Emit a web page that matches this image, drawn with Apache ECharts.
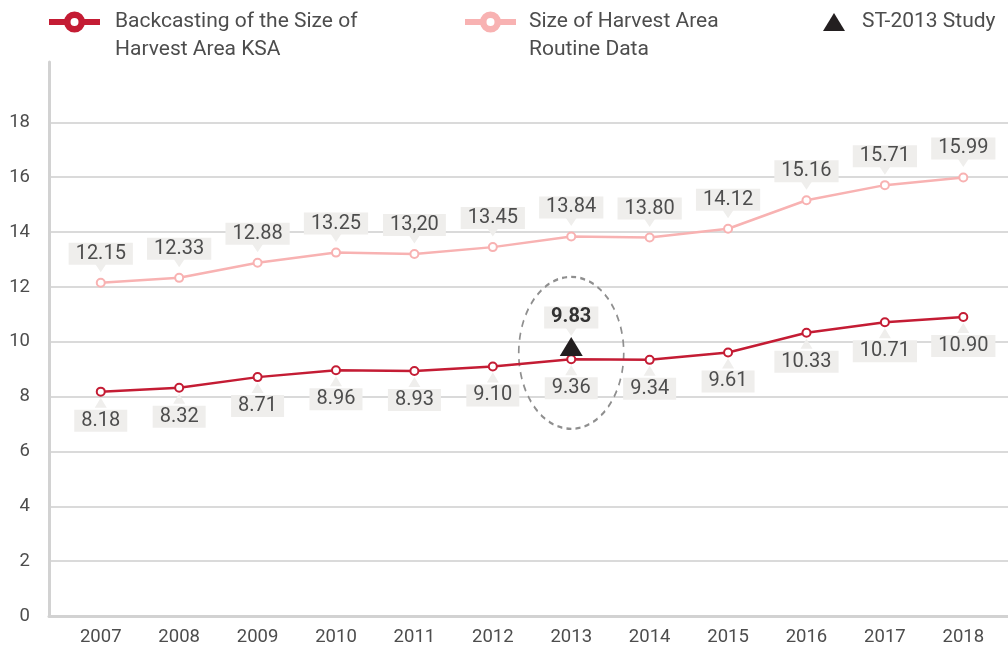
<!DOCTYPE html>
<html>
<head>
<meta charset="utf-8">
<script src="https://cdn.jsdelivr.net/npm/echarts@6/dist/echarts.min.js"></script>
<style>
  html, body { margin: 0; padding: 0; background: #fff; }
  #main { width: 1008px; height: 647px; }
</style>
</head>
<body>
<div id="main"></div>
<script>
// data
const years = [2007, 2008, 2009, 2010, 2011, 2012, 2013, 2014, 2015, 2016, 2017, 2018];
const backcastKSA = [8.18, 8.32, 8.71, 8.96, 8.93, 9.10, 9.36, 9.34, 9.61, 10.33, 10.71, 10.90];
const routineData = [12.15, 12.33, 12.88, 13.25, 13.20, 13.45, 13.84, 13.80, 14.12, 15.16, 15.71, 15.99];
const studyYear = [2013];
const studyValue = [9.83];

const NAME_KSA = 'Backcasting of the Size of Harvest Area KSA';
const NAME_ROUTINE = 'Size of Harvest Area Routine Data';
const NAME_STUDY = 'ST-2013 Study';

const RED = '#c41c34';
const PINK = '#f8b2b2';
const BOX = '#efeeec';
const TXT = '#4d4d4d';
const FONT = 'Roboto';

const pairs = vals => vals.map((v, i) => [years[i], v]);
const studyPts = studyYear.map((y, i) => [y, studyValue[i]]);

// legend icon: thick line with a ring in the middle
const lineRingIcon = 'path://M0 7.5H16V13.5H0Z M35 7.5H51V13.5H35Z ' +
    'M15 10.5A10.5 10.5 0 1 1 36 10.5A10.5 10.5 0 1 1 15 10.5Z ' +
    'M21.5 10.5A4 4 0 1 0 29.5 10.5A4 4 0 1 0 21.5 10.5Z';
const ellipsePath = 'path://M0 76A52.5 76 0 1 1 105 76A52.5 76 0 1 1 0 76Z';

const boxLabel = {
    show: true,
    fontFamily: FONT,
    fontSize: 20,
    lineHeight: 20,
    color: TXT,
    backgroundColor: BOX,
    padding: [1, 7, 1, 7]
};

const legendText = padLeft => ({
    fontFamily: FONT,
    fontSize: 21,
    lineHeight: 28,
    color: TXT,
    padding: [0, 0, 0, padLeft]
});

const chart = echarts.init(document.getElementById('main'));
chart.setOption({
    animation: false,
    grid: { left: 49, right: 0, top: 62, bottom: 31 },
    legend: [
        {
            // leading empty line keeps the first text line level with the icon
            data: [NAME_KSA], left: 49, top: -20, padding: 0, selectedMode: false,
            icon: lineRingIcon, itemWidth: 51, itemHeight: 21,
            itemStyle: { color: RED },
            formatter: () => '\nBackcasting of the Size of\nHarvest Area KSA',
            textStyle: legendText(10)
        },
        {
            data: [NAME_ROUTINE], left: 465, top: -20, padding: 0, selectedMode: false,
            icon: lineRingIcon, itemWidth: 51, itemHeight: 21,
            itemStyle: { color: PINK },
            formatter: () => '\nSize of Harvest Area\nRoutine Data',
            textStyle: legendText(8)
        },
        {
            data: [NAME_STUDY], left: 823, top: 8, padding: 0, selectedMode: false,
            icon: 'triangle', itemWidth: 22, itemHeight: 18,
            itemStyle: { color: '#231f20' },
            textStyle: legendText(12)
        }
    ],
    xAxis: {
        type: 'value',
        min: 2006.34,
        max: 2018.57,
        axisLine: { show: true, lineStyle: { color: '#d2d2d2', width: 3 } },
        axisTick: { show: false },
        splitLine: { show: false },
        axisLabel: {
            customValues: years,
            formatter: v => String(v),
            margin: 12,
            fontFamily: FONT,
            fontSize: 18.5,
            color: TXT
        }
    },
    yAxis: {
        type: 'value',
        min: 0,
        max: 20.2,
        interval: 2,
        axisLine: { show: true, lineStyle: { color: '#d2d2d2', width: 3 } },
        axisTick: { show: false },
        axisLabel: {
            showMaxLabel: false,
            formatter: v => (v > 19 ? '' : String(v)),
            margin: 19,
            fontFamily: FONT,
            fontSize: 18.5,
            color: TXT
        },
        splitLine: {
            showMaxLine: false,
            lineStyle: {
                width: 2,
                color: ['#dadada', '#dadada', '#dadada', '#dadada', '#dadada', '#dadada',
                        '#dadada', '#dadada', '#dadada', '#dadada', 'rgba(0,0,0,0)']
            }
        }
    },
    series: [
        {
            // dashed ellipse around the 2013 comparison
            type: 'scatter', silent: true, z: 1,
            symbol: ellipsePath, symbolSize: [105, 152],
            itemStyle: { color: 'rgba(0,0,0,0)', borderColor: '#8f8f8f', borderWidth: 2, borderType: [6, 5], opacity: 1 },
            data: [[studyYear[0], (studyValue[0] + backcastKSA[years.indexOf(studyYear[0])]) / 2]]
        },
        {
            // label pointers below the upper labels
            type: 'scatter', silent: true, z: 2,
            symbol: 'triangle', symbolRotate: 180, symbolSize: [12, 9], symbolOffset: [0, -15],
            itemStyle: { color: BOX, opacity: 1 },
            data: pairs(routineData).concat(studyPts)
        },
        {
            // label pointers above the lower labels
            type: 'scatter', silent: true, z: 2,
            symbol: 'triangle', symbolSize: [12, 10], symbolOffset: [0, 11],
            itemStyle: { color: BOX, opacity: 1 },
            data: pairs(backcastKSA)
        },
        {
            name: NAME_ROUTINE, type: 'line', z: 3, silent: true,
            symbol: 'emptyCircle', symbolSize: 8, showAllSymbol: true,
            lineStyle: { color: PINK, width: 2.5 },
            itemStyle: { color: PINK, borderWidth: 2.5 },
            label: Object.assign({}, boxLabel, {
                position: 'top', distance: 13,
                formatter: p => (p.dataIndex === 4 ? p.value[1].toFixed(2).replace('.', ',') : p.value[1].toFixed(2))
            }),
            data: pairs(routineData)
        },
        {
            name: NAME_KSA, type: 'line', z: 3, silent: true,
            symbol: 'emptyCircle', symbolSize: 8, showAllSymbol: true,
            lineStyle: { color: RED, width: 2.5 },
            itemStyle: { color: RED, borderWidth: 2.5 },
            label: Object.assign({}, boxLabel, {
                position: 'bottom', distance: 13,
                formatter: p => p.value[1].toFixed(2)
            }),
            data: pairs(backcastKSA)
        },
        {
            name: NAME_STUDY, type: 'scatter', z: 4, silent: true,
            symbol: 'triangle', symbolSize: [23, 19],
            itemStyle: { color: '#231f20', opacity: 1 },
            label: Object.assign({}, boxLabel, {
                position: 'top', distance: 8.5,
                fontWeight: 'bold', color: '#333',
                formatter: p => p.value[1].toFixed(2)
            }),
            data: studyPts
        }
    ]
});
</script>
</body>
</html>
